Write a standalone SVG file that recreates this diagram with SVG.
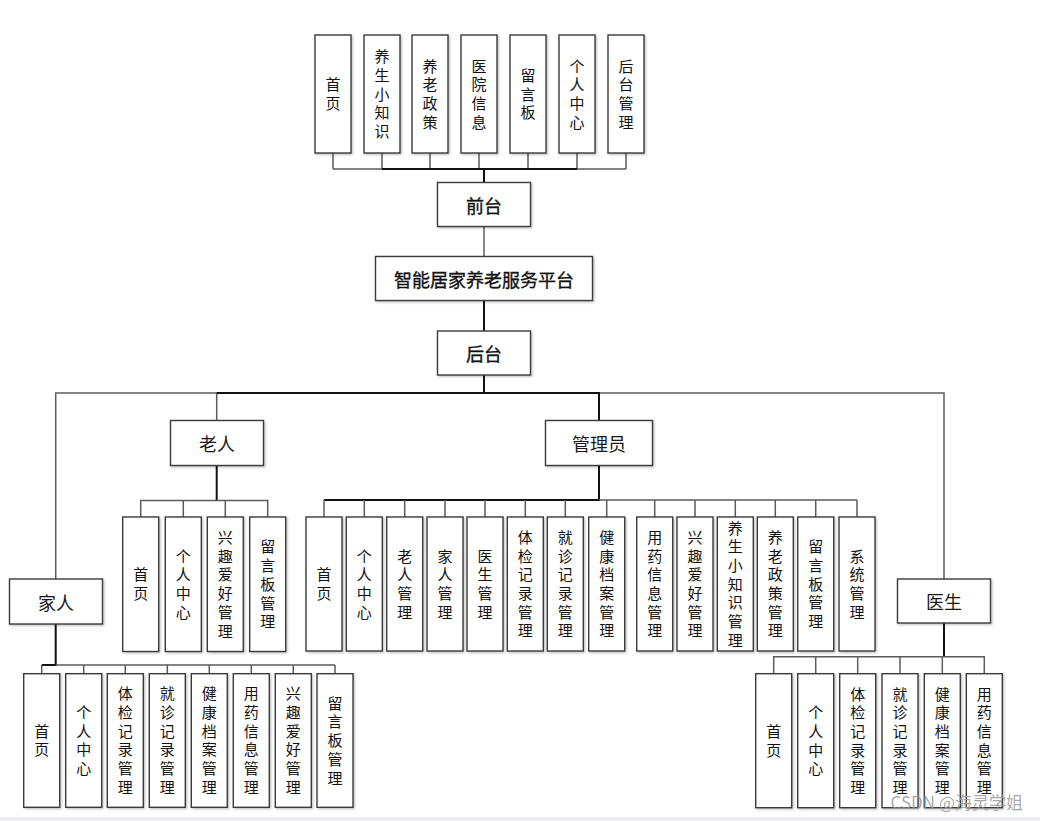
<svg xmlns="http://www.w3.org/2000/svg" width="1040" height="821" viewBox="0 0 1040 821">
  <defs>
    <filter id="shadow" x="-10%" y="-10%" width="130%" height="130%">
      <feDropShadow dx="1.2" dy="1.2" stdDeviation="0.8" flood-color="#000" flood-opacity="0.25"/>
    </filter>
  </defs>
  <style>
    rect.box { fill: #ffffff; stroke: #3a3a3a; stroke-width: 1.4; filter: url(#shadow); }
    .v { font-family: "Noto Sans CJK SC", "Liberation Sans", sans-serif; font-size: 15px; fill: #111; text-anchor: middle; writing-mode: vertical-rl; text-orientation: upright; letter-spacing: 3.7px; }
    .h { font-family: "Noto Sans CJK SC", "Liberation Sans", sans-serif; font-size: 18px; fill: #111; text-anchor: middle; dominant-baseline: central; }
    .hb { stroke: #111; stroke-width: 0.35; }
    .role { fill: #1a1a1a; }
    .ln { fill: none; stroke: #5c5c5c; stroke-width: 1.5; }
    .trunk { fill: none; stroke: #111; stroke-width: 2; }
    .mark { font-family: "Noto Sans CJK SC", "Liberation Sans", sans-serif; font-size: 17px; fill: #9a9a9a; fill-opacity: 0.85; text-anchor: end; }
  </style>

  <rect x="0" y="0" width="1040" height="821" fill="#ffffff"/>
  <rect x="0" y="817" width="1040" height="4" fill="#eeeef2"/>

  <!-- connectors -->
  <g id="connectors">
    <!-- front-end row -->
    <path class="ln" d="M333 153 V169 M382 153 V169 M430 153 V169 M479 153 V169 M528 153 V169 M577 153 V169 M626 153 V169 M333 169 H626"/>
    <path class="trunk" d="M382 169 H577 M484 169 V182.5"/>
    <!-- platform spine -->
    <path class="ln" d="M484 226.5 V256.5"/>
    <path class="trunk" d="M484 300.5 V331 M484 375 V393"/>
    <!-- role bus -->
    <path class="ln" d="M55.7 579 V393 H944 V579 M216.7 393 V420.5"/>
    <path class="trunk" d="M216.7 393 H599 V420.5"/>
    <!-- elder children -->
    <path class="trunk" d="M216.7 465.5 V500.5"/>
    <path class="ln" d="M140.7 517 V500.5 H267.7 V517 M183.3 500.5 V517 M225.3 500.5 V517"/>
    <!-- admin children -->
    <path class="trunk" d="M599 465.5 V500 H324"/>
    <path class="ln" d="M324 500 V517 M364.3 500 V517 M404.7 500 V517 M445 500 V517 M485 500 V517 M525.3 500 V517 M565.3 500 V517 M606.7 500 V517 M654.7 500 V517 M695 500 V517 M735.3 500 V517 M775.3 500 V517 M815.7 500 V517 M857 500 V517 M599 500 H857"/>
    <!-- family children -->
    <path class="trunk" d="M55.7 623.5 V665 H41.7"/>
    <path class="ln" d="M41.7 665 V673.7 M83.7 665 V673.7 M125.3 665 V673.7 M167.3 665 V673.7 M209.3 665 V673.7 M251.3 665 V673.7 M293.3 665 V673.7 M335 665 V673.7 M55.7 665 H335"/>
    <!-- doctor children -->
    <path class="trunk" d="M944 623 V656.7"/>
    <path class="ln" d="M773.7 673.7 V656.7 H984.3 V673.7 M815.7 656.7 V673.7 M857.7 656.7 V673.7 M900 656.7 V673.7 M942.3 656.7 V673.7"/>
  </g>

  <!-- front-end pages -->
  <g id="fe-home"><rect class="box" x="315" y="35" width="36" height="118"/><text class="v" x="333" y="95.8">首页</text></g>
  <g id="fe-tips"><rect class="box" x="364" y="35" width="36" height="118"/><text class="v" x="382" y="95.8">养生小知识</text></g>
  <g id="fe-policy"><rect class="box" x="412" y="35" width="36" height="118"/><text class="v" x="430" y="95.8">养老政策</text></g>
  <g id="fe-hospital"><rect class="box" x="461" y="35" width="36" height="118"/><text class="v" x="479" y="95.8">医院信息</text></g>
  <g id="fe-board"><rect class="box" x="510" y="35" width="36" height="118"/><text class="v" x="528" y="95.8">留言板</text></g>
  <g id="fe-profile"><rect class="box" x="559" y="35" width="36" height="118"/><text class="v" x="577" y="95.8">个人中心</text></g>
  <g id="fe-admin"><rect class="box" x="608" y="35" width="36" height="118"/><text class="v" x="626" y="95.8">后台管理</text></g>

  <!-- spine -->
  <g id="frontend"><rect class="box" x="437.5" y="182.5" width="93" height="44"/><text class="h hb" x="484" y="204.5">前台</text></g>
  <g id="platform"><rect class="box" x="375.5" y="256.5" width="217" height="44"/><text class="h hb" x="484" y="278.5">智能居家养老服务平台</text></g>
  <g id="backend"><rect class="box" x="437.5" y="331" width="93" height="44"/><text class="h hb" x="484" y="353">后台</text></g>

  <!-- roles -->
  <g id="elder"><rect class="box" x="170.5" y="420.5" width="93" height="45"/><text class="h role" x="217" y="443">老人</text></g>
  <g id="admin"><rect class="box" x="545.5" y="420.5" width="107" height="45"/><text class="h role" x="599" y="443">管理员</text></g>
  <g id="family"><rect class="box" x="9.5" y="579" width="93" height="45"/><text class="h role" x="56" y="601.5">家人</text></g>
  <g id="doctor"><rect class="box" x="897.5" y="579" width="93" height="44"/><text class="h role" x="944" y="601">医生</text></g>

  <!-- elder modules -->
  <g id="elder-home"><rect class="box" x="122.7" y="517" width="36" height="134.5"/><text class="v" x="140.7" y="586">首页</text></g>
  <g id="elder-profile"><rect class="box" x="165.3" y="517" width="36" height="134.5"/><text class="v" x="183.3" y="586">个人中心</text></g>
  <g id="elder-hobby"><rect class="box" x="207.3" y="517" width="36" height="134.5"/><text class="v" x="225.3" y="586">兴趣爱好管理</text></g>
  <g id="elder-board"><rect class="box" x="249.7" y="517" width="36" height="134.5"/><text class="v" x="267.7" y="586">留言板管理</text></g>

  <!-- admin modules -->
  <g id="adm-home"><rect class="box" x="306" y="517" width="36" height="134"/><text class="v" x="324" y="585.8">首页</text></g>
  <g id="adm-profile"><rect class="box" x="346.3" y="517" width="36" height="134"/><text class="v" x="364.3" y="585.8">个人中心</text></g>
  <g id="adm-elder"><rect class="box" x="386.7" y="517" width="36" height="134"/><text class="v" x="404.7" y="585.8">老人管理</text></g>
  <g id="adm-family"><rect class="box" x="427" y="517" width="36" height="134"/><text class="v" x="445" y="585.8">家人管理</text></g>
  <g id="adm-doctor"><rect class="box" x="467" y="517" width="36" height="134"/><text class="v" x="485" y="585.8">医生管理</text></g>
  <g id="adm-checkup"><rect class="box" x="507.3" y="517" width="36" height="134"/><text class="v" x="525.3" y="585.8">体检记录管理</text></g>
  <g id="adm-visit"><rect class="box" x="547.3" y="517" width="36" height="134"/><text class="v" x="565.3" y="585.8">就诊记录管理</text></g>
  <g id="adm-health"><rect class="box" x="588.7" y="517" width="36" height="134"/><text class="v" x="606.7" y="585.8">健康档案管理</text></g>
  <g id="adm-medicine"><rect class="box" x="636.7" y="517" width="36" height="134"/><text class="v" x="654.7" y="585.8">用药信息管理</text></g>
  <g id="adm-hobby"><rect class="box" x="677" y="517" width="36" height="134"/><text class="v" x="695" y="585.8">兴趣爱好管理</text></g>
  <g id="adm-tips"><rect class="box" x="717.3" y="517" width="36" height="134"/><text class="v" x="735.3" y="585.8">养生小知识管理</text></g>
  <g id="adm-policy"><rect class="box" x="757.3" y="517" width="36" height="134"/><text class="v" x="775.3" y="585.8">养老政策管理</text></g>
  <g id="adm-board"><rect class="box" x="797.7" y="517" width="36" height="134"/><text class="v" x="815.7" y="585.8">留言板管理</text></g>
  <g id="adm-system"><rect class="box" x="839" y="517" width="36" height="134"/><text class="v" x="857" y="585.8">系统管理</text></g>

  <!-- family modules -->
  <g id="fam-home"><rect class="box" x="23.7" y="673.7" width="36" height="133.6"/><text class="v" x="41.7" y="742.3">首页</text></g>
  <g id="fam-profile"><rect class="box" x="65.7" y="673.7" width="36" height="133.6"/><text class="v" x="83.7" y="742.3">个人中心</text></g>
  <g id="fam-checkup"><rect class="box" x="107.3" y="673.7" width="36" height="133.6"/><text class="v" x="125.3" y="742.3">体检记录管理</text></g>
  <g id="fam-visit"><rect class="box" x="149.3" y="673.7" width="36" height="133.6"/><text class="v" x="167.3" y="742.3">就诊记录管理</text></g>
  <g id="fam-health"><rect class="box" x="191.3" y="673.7" width="36" height="133.6"/><text class="v" x="209.3" y="742.3">健康档案管理</text></g>
  <g id="fam-medicine"><rect class="box" x="233.3" y="673.7" width="36" height="133.6"/><text class="v" x="251.3" y="742.3">用药信息管理</text></g>
  <g id="fam-hobby"><rect class="box" x="275.3" y="673.7" width="36" height="133.6"/><text class="v" x="293.3" y="742.3">兴趣爱好管理</text></g>
  <g id="fam-board"><rect class="box" x="317" y="673.7" width="36" height="133.6"/><text class="v" x="335" y="742.3">留言板管理</text></g>

  <!-- doctor modules -->
  <g id="doc-home"><rect class="box" x="755.7" y="673.7" width="36" height="134"/><text class="v" x="773.7" y="742.5">首页</text></g>
  <g id="doc-profile"><rect class="box" x="797.7" y="673.7" width="36" height="134"/><text class="v" x="815.7" y="742.5">个人中心</text></g>
  <g id="doc-checkup"><rect class="box" x="839.7" y="673.7" width="36" height="134"/><text class="v" x="857.7" y="742.5">体检记录管理</text></g>
  <g id="doc-visit"><rect class="box" x="882" y="673.7" width="36" height="134"/><text class="v" x="900" y="742.5">就诊记录管理</text></g>
  <g id="doc-health"><rect class="box" x="924.3" y="673.7" width="36" height="134"/><text class="v" x="942.3" y="742.5">健康档案管理</text></g>
  <g id="doc-medicine"><rect class="box" x="966.3" y="673.7" width="36" height="134"/><text class="v" x="984.3" y="742.5">用药信息管理</text></g>

  <text class="mark" x="1023" y="809">CSDN @海灵学姐</text>
</svg>
